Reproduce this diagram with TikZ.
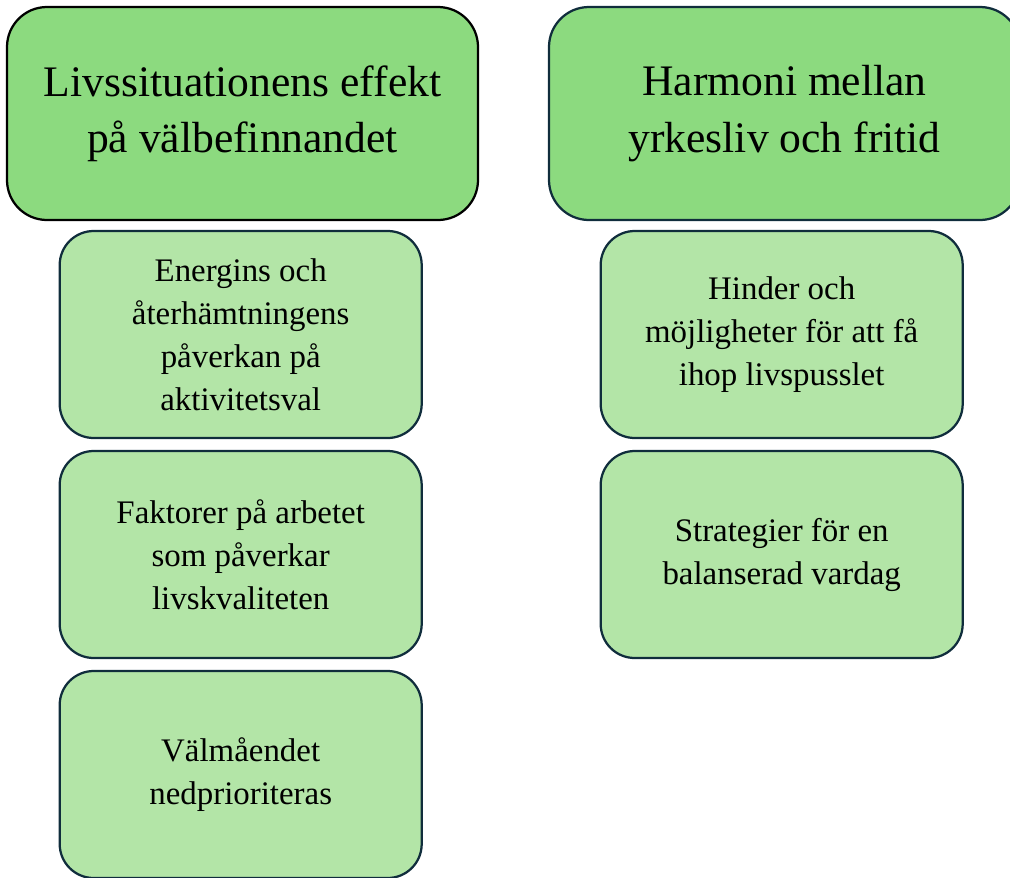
\documentclass[tikz,border=0pt]{standalone}
\usepackage{fontspec}
\setmainfont{Liberation Serif}
\usepackage{xcolor}
\usepackage{tikz}
\usetikzlibrary{positioning}
\definecolor{headgreen}{RGB}{140,218,127}
\definecolor{subgreen}{RGB}{179,229,167}
\definecolor{edgeblue}{RGB}{16,45,60}
\tikzset{
    heading/.style={rectangle, rounded corners=1cm, draw=edgeblue, line width=1.6pt, fill=headgreen, outer sep=0pt, minimum width=11.775cm, minimum height=5.325cm, align=center, font=\fontsize{31}{40}\selectfont},
    topic/.style={rectangle, rounded corners=0.85cm, draw=edgeblue, line width=1.6pt, fill=subgreen, outer sep=0pt, minimum width=9.05cm, minimum height=5.175cm, align=center, font=\fontsize{23.4}{30.6}\selectfont}
}

\begin{document}
\begin{tikzpicture}
            \useasboundingbox (0,0) rectangle (25.25,-21.925);
            \node (head1) [heading, draw=black] at (6.0625,-2.8375) {Livssituationens effekt\\på välbefinnandet};
            \node (head2) [heading] at (19.6125,-2.8375) {Harmoni mellan\\yrkesliv och fritid};

            \node (energi) [topic, below=0.275cm of head1, xshift=-0.045cm] {Energins och\\återhämtningens\\påverkan på\\aktivitetsval};
            \node (faktorer) [topic, below=0.325cm of energi] {Faktorer på arbetet\\som påverkar\\livskvaliteten};
            \node (valmaende) [topic, below=0.325cm of faktorer] {Välmåendet\\nedprioriteras};

            \node (hinder) [topic, below=0.275cm of head2, xshift=-0.07cm] {Hinder och\\möjligheter för att få\\ihop livspusslet};
            \node (strategier) [topic, below=0.325cm of hinder] {Strategier för en\\balanserad vardag};
\end{tikzpicture}
\end{document}
